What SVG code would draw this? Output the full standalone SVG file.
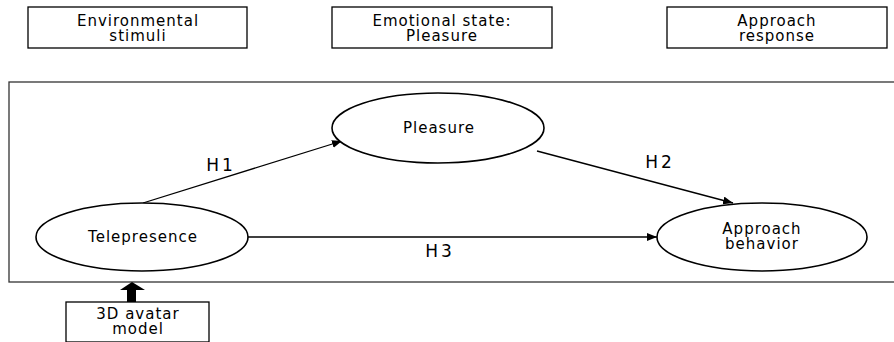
<svg xmlns="http://www.w3.org/2000/svg" width="894" height="342" viewBox="0 0 894 342">
<style>
.box{fill:#fff;stroke:#000;stroke-width:1.3}
.ell{fill:#fff;stroke:#000;stroke-width:1.6}
.t{font-family:"DejaVu Sans",sans-serif;font-size:15px;letter-spacing:1px;fill:#000;text-anchor:middle}
.h{font-family:"DejaVu Sans",sans-serif;font-size:17px;fill:#000;text-anchor:middle;letter-spacing:3px}
.c{stroke:#000;stroke-width:1.3;fill:none;marker-end:url(#ah)}
</style>
<defs>
<marker id="ah" viewBox="0 0 10 8" refX="10" refY="4" markerWidth="10" markerHeight="8" markerUnits="userSpaceOnUse" orient="auto">
<path d="M0,0 L10,4 L0,8 Z" fill="#000"/>
</marker>
</defs>
<rect x="9" y="82" width="890" height="200" fill="none" stroke="#333" stroke-width="1.3"/>
<g id="env">
<rect class="box" x="28" y="7" width="219" height="41"/>
<text class="t" x="138" y="26">Environmental</text>
<text class="t" x="138" y="41">stimuli</text>
</g>
<g id="emo">
<rect class="box" x="332" y="7" width="220" height="41"/>
<text class="t" x="442" y="26">Emotional state:</text>
<text class="t" x="442" y="41">Pleasure</text>
</g>
<g id="resp">
<rect class="box" x="667" y="7" width="220" height="41"/>
<text class="t" x="777" y="26">Approach</text>
<text class="t" x="777" y="41">response</text>
</g>
<g id="connectors">
<line class="c" x1="143" y1="203" x2="342" y2="141"/>
<line class="c" x1="537" y1="151" x2="733" y2="203"/>
<line class="c" x1="248" y1="237" x2="657" y2="237"/>
<path d="M127,302 L127,290 L120,290 L132,282 L145,290 L136,290 L136,302 Z" fill="#000"/>
<text class="h" x="221" y="171">H1</text>
<text class="h" x="660" y="168">H2</text>
<text class="h" x="440" y="257">H3</text>
</g>
<g id="pleasure">
<ellipse class="ell" cx="438" cy="128" rx="106" ry="35"/>
<text class="t" x="439" y="133">Pleasure</text>
</g>
<g id="telepresence">
<ellipse class="ell" cx="142" cy="237" rx="106" ry="34"/>
<text class="t" x="143" y="242">Telepresence</text>
</g>
<g id="approach">
<ellipse class="ell" cx="762" cy="237" rx="105" ry="34"/>
<text class="t" x="762" y="234">Approach</text>
<text class="t" x="762" y="249">behavior</text>
</g>
<g id="avatar">
<rect class="box" x="66" y="302" width="143" height="40"/>
<text class="t" x="138" y="319">3D avatar</text>
<text class="t" x="138" y="334">model</text>
</g>
</svg>
